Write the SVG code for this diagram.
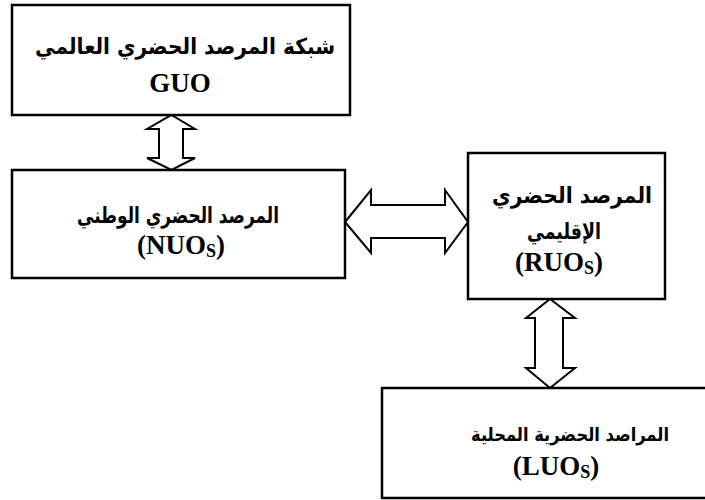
<svg xmlns="http://www.w3.org/2000/svg" width="705" height="500" viewBox="0 0 705 500">
<style>
.box{fill:#fff;stroke:#000;stroke-width:2.5}
.arr{fill:#fff;stroke:#000;stroke-width:2;stroke-linejoin:miter}
.ar{font-family:"DejaVu Sans","Noto Sans",sans-serif;font-weight:bold;font-size:22px;fill:#000;text-anchor:middle}
.sm{font-size:19px}
.lat{font-family:"Liberation Serif","Times New Roman",serif;font-weight:bold;font-size:27px;fill:#000;text-anchor:middle}
.sub{font-size:18px}
</style>
<rect width="705" height="500" fill="#fff"/>
<g id="connectors">
<path class="arr" d="M171.5,115 L195,129 L183,129 L183,158 L195,158 L171.5,170 L147,158 L159,158 L159,129 L147,129 Z"/>
<path class="arr" d="M345,222 L371,190 L371,205 L445,205 L445,190 L468,222 L445,253 L445,238 L371,238 L371,253 Z"/>
<path class="arr" d="M550,299 L575,318 L563,318 L563,368 L575,368 L550,388 L526,368 L535,368 L535,318 L526,318 Z"/>
</g>
<g id="GUO">
<rect class="box" x="12" y="5" width="338" height="110"/>
<text class="ar" x="185" y="54" textLength="300" lengthAdjust="spacingAndGlyphs">شبكة المرصد الحضري العالمي</text>
<text class="lat" x="180" y="92">GUO</text>
</g>
<g id="NUO">
<rect class="box" x="12" y="170" width="333" height="108"/>
<text class="ar" x="178" y="223" textLength="202" lengthAdjust="spacingAndGlyphs">المرصد الحضري الوطني</text>
<text class="lat" x="181" y="254">(NUO<tspan class="sub" dy="3">S</tspan><tspan dy="-3">)</tspan></text>
</g>
<g id="RUO">
<rect class="box" x="468" y="153" width="197" height="146"/>
<text class="ar" x="572" y="203" textLength="160" lengthAdjust="spacingAndGlyphs">المرصد الحضري</text>
<text class="ar" x="564" y="239" textLength="74" lengthAdjust="spacingAndGlyphs">الإقليمي</text>
<text class="lat" x="559" y="271">(RUO<tspan class="sub" dy="3">S</tspan><tspan dy="-3">)</tspan></text>
</g>
<g id="LUO">
<path class="box" d="M705,388 H382 V498 H705"/>
<text class="ar sm" x="570" y="441" textLength="198" lengthAdjust="spacingAndGlyphs">المراصد الحضرية المحلية</text>
<text class="lat" x="556" y="475">(LUO<tspan class="sub" dy="3">S</tspan><tspan dy="-3">)</tspan></text>
</g>
</svg>
